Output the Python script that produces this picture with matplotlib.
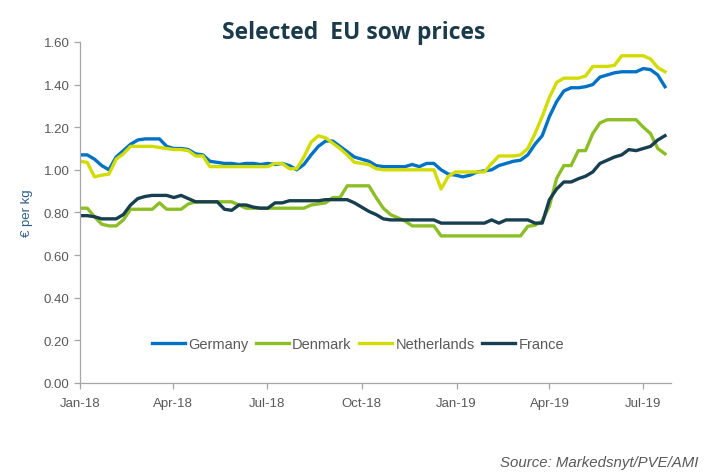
import numpy as np
import pandas as pd
import matplotlib
matplotlib.use('Agg')
import matplotlib.pyplot as plt

# weekly sow prices, EUR per kg
weeks = pd.date_range('2018-01-01', periods=82, freq='7D')

germany = [1.07, 1.07, 1.05, 1.02, 1.00, 1.06, 1.09, 1.12, 1.14, 1.145,
           1.145, 1.145, 1.11, 1.10, 1.10, 1.095, 1.075, 1.07, 1.04, 1.035,
           1.03, 1.03, 1.025, 1.03, 1.03, 1.025, 1.03, 1.025, 1.03, 1.02,
           1.00, 1.025, 1.07, 1.11, 1.135, 1.135, 1.11, 1.085, 1.06, 1.05,
           1.04, 1.02, 1.015, 1.015, 1.015, 1.015, 1.025, 1.015, 1.03, 1.03,
           1.00, 0.98, 0.975, 0.967, 0.975, 0.99, 0.995, 1.00, 1.02, 1.03,
           1.04, 1.045, 1.07, 1.12, 1.16, 1.25, 1.32, 1.37, 1.385, 1.385,
           1.39, 1.40, 1.435, 1.445, 1.455, 1.46, 1.46, 1.46, 1.475, 1.47,
           1.445, 1.39]

denmark = [0.82, 0.82, 0.78, 0.745, 0.737, 0.737, 0.765, 0.815, 0.815, 0.815,
           0.815, 0.845, 0.815, 0.815, 0.815, 0.84, 0.85, 0.85, 0.85, 0.85,
           0.85, 0.85, 0.835, 0.82, 0.82, 0.82, 0.82, 0.82, 0.82, 0.82,
           0.82, 0.82, 0.835, 0.84, 0.845, 0.87, 0.87, 0.925, 0.925, 0.925,
           0.925, 0.87, 0.82, 0.79, 0.775, 0.76, 0.737, 0.737, 0.737, 0.737,
           0.69, 0.69, 0.69, 0.69, 0.69, 0.69, 0.69, 0.69, 0.69, 0.69,
           0.69, 0.69, 0.735, 0.74, 0.76, 0.83, 0.96, 1.02, 1.02, 1.09,
           1.09, 1.17, 1.22, 1.235, 1.235, 1.235, 1.235, 1.235, 1.20, 1.17,
           1.10, 1.075]

netherlands = [1.04, 1.035, 0.967, 0.975, 0.98, 1.05, 1.075, 1.11, 1.11, 1.11,
               1.11, 1.105, 1.10, 1.095, 1.095, 1.09, 1.065, 1.065, 1.015, 1.015,
               1.015, 1.015, 1.015, 1.015, 1.015, 1.015, 1.015, 1.03, 1.03, 1.005,
               1.005, 1.06, 1.13, 1.16, 1.15, 1.125, 1.10, 1.07, 1.035, 1.03,
               1.025, 1.005, 1.00, 1.00, 1.00, 1.00, 1.00, 1.00, 1.00, 1.00,
               0.91, 0.97, 0.99, 0.99, 0.99, 0.99, 0.99, 1.03, 1.065, 1.065,
               1.065, 1.07, 1.10, 1.17, 1.25, 1.34, 1.41, 1.43, 1.43, 1.43,
               1.44, 1.485, 1.485, 1.485, 1.49, 1.535, 1.535, 1.535, 1.535, 1.52,
               1.48, 1.46]

france = [0.785, 0.785, 0.78, 0.77, 0.77, 0.77, 0.79, 0.835, 0.865, 0.875,
          0.88, 0.88, 0.88, 0.87, 0.88, 0.865, 0.85, 0.85, 0.85, 0.85,
          0.815, 0.81, 0.835, 0.835, 0.825, 0.82, 0.82, 0.845, 0.845, 0.855,
          0.855, 0.855, 0.855, 0.855, 0.86, 0.86, 0.86, 0.86, 0.845, 0.825,
          0.805, 0.79, 0.77, 0.765, 0.765, 0.765, 0.765, 0.765, 0.765, 0.765,
          0.75, 0.75, 0.75, 0.75, 0.75, 0.75, 0.75, 0.765, 0.75, 0.765,
          0.765, 0.765, 0.765, 0.75, 0.75, 0.86, 0.91, 0.943, 0.943, 0.958,
          0.97, 0.99, 1.03, 1.045, 1.06, 1.07, 1.095, 1.09, 1.10, 1.11,
          1.14, 1.16]

tick_dates = pd.to_datetime(['2018-01-01', '2018-04-01', '2018-07-01', '2018-10-01',
                             '2019-01-01', '2019-04-01', '2019-07-01'])
tick_labels = ['Jan-18', 'Apr-18', 'Jul-18', 'Oct-18', 'Jan-19', 'Apr-19', 'Jul-19']

plt.rcParams['font.family'] = ['Liberation Sans Narrow', 'Liberation Sans', 'DejaVu Sans']

fig = plt.figure(figsize=(7.05, 4.77), dpi=100, facecolor='white')
ax = fig.add_axes([0.1135, 0.195, 0.8385, 0.715])

grey = '#595959'
ax.plot(weeks, germany, color='#0072c6', lw=2.4, label='Germany')
ax.plot(weeks, denmark, color='#8cbf26', lw=2.4, label='Denmark')
ax.plot(weeks, netherlands, color='#d2dc00', lw=2.4, label='Netherlands')
ax.plot(weeks, france, color='#173f4f', lw=2.4, label='France')

ax.set_xlim(pd.Timestamp('2018-01-01'), pd.Timestamp('2019-07-28'))
ax.set_ylim(0, 1.6)
ax.set_yticks(np.arange(0, 1.61, 0.2))
ax.set_yticklabels(['%.2f' % v for v in np.arange(0, 1.61, 0.2)])
ax.set_xticks(tick_dates)
ax.set_xticklabels(tick_labels)

for s in ['top', 'right']:
    ax.spines[s].set_visible(False)
for s in ['left', 'bottom']:
    ax.spines[s].set_color('#a6a6a6')
    ax.spines[s].set_linewidth(0.9)
ax.tick_params(axis='both', colors='#a6a6a6', labelcolor=grey, labelsize=9.5,
               length=4, width=0.9)
ax.tick_params(axis='x', pad=6)

ax.set_ylabel('€ per kg', color='#2e5d8a', fontsize=9.5, labelpad=8)

ax.legend(loc='center', bbox_to_anchor=(0.47, 0.115), ncol=4, frameon=False,
          fontsize=10.5, handlelength=2.3, handletextpad=0.2, columnspacing=0.5,
          labelcolor=grey)

fig.text(0.502, 0.93, 'Selected  EU sow prices', ha='center', va='center',
         fontsize=16.5, fontweight='bold', color='#1b3a4a', family='Open Sans')
fig.text(0.99, 0.03, 'Source: Markedsnyt/PVE/AMI', ha='right', va='center',
         fontsize=10.8, style='italic', color=grey)

fig.savefig('out.png', dpi=100)
